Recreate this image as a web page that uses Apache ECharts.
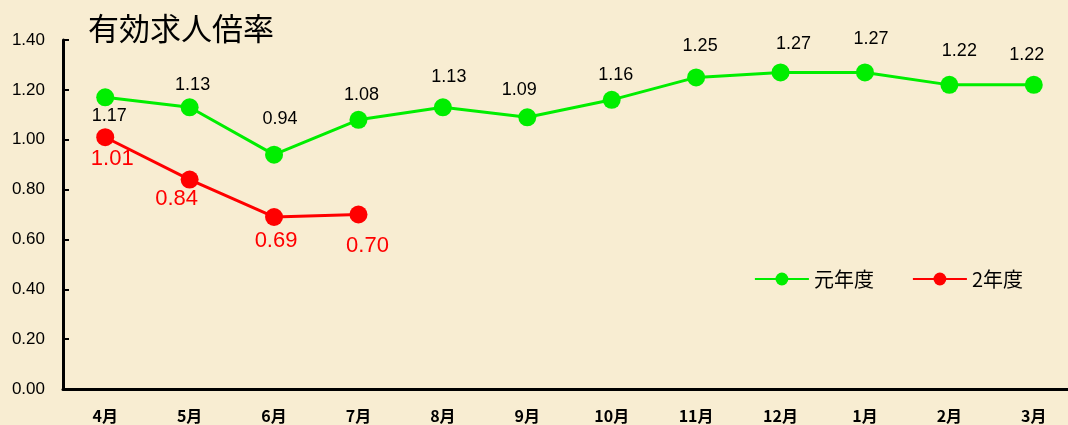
<!DOCTYPE html>
<html>
<head>
<meta charset="utf-8">
<script src="https://cdn.jsdelivr.net/npm/echarts@6/dist/echarts.min.js"></script>
<style>
  html, body { margin: 0; padding: 0; overflow: hidden; background: #f8edd2; }
  #chart { width: 1076px; height: 425px; }
</style>
</head>
<body>
<div id="chart"></div>
<script>
const months = ['4月', '5月', '6月', '7月', '8月', '9月', '10月', '11月', '12月', '1月', '2月', '3月']
const gannendo = [1.17, 1.13, 0.94, 1.08, 1.13, 1.09, 1.16, 1.25, 1.27, 1.27, 1.22, 1.22]
const ninendo = [1.01, 0.84, 0.69, 0.70]

// label offsets from the point centre (layout only)
const greenLabelOffsets = [[4, 19], [3, -22], [6, -36], [3, -25], [6, -30], [-8, -27],
  [4, -25], [4, -31], [13, -28], [6, -33], [10, -34], [-7, -30]]
const redLabelOffsets = [[7, 22], [-13, 19], [2, 24], [9, 31]]

const cjk = '"Noto Sans CJK JP", sans-serif'
const num = '"Liberation Sans", Arial, sans-serif'
const chart = echarts.init(document.getElementById('chart'))

const withOffsets = (values, offsets) => values.map((v, i) => ({
  value: v,
  label: { offset: offsets[i] }
}))

chart.setOption({
  backgroundColor: '#f8edd2',
  title: {
    text: '有効求人倍率',
    left: 83,
    top: 8,
    textStyle: { fontFamily: cjk, fontSize: 31, fontWeight: 'normal', color: '#000' }
  },
  legend: {
    right: 48,
    top: 264,
    itemWidth: 54,
    itemHeight: 16,
    itemGap: 38,
    textStyle: { fontFamily: cjk, fontSize: 20, color: '#000' },
    data: ['元年度', '2年度']
  },
  grid: { left: 63, right: 0, top: 40, bottom: 36 },
  xAxis: {
    type: 'category',
    data: months,
    axisLine: { lineStyle: { color: '#000', width: 3 } },
    axisTick: { inside: true, length: 6, lineStyle: { color: '#000', width: 2 } },
    axisLabel: { fontFamily: cjk, fontSize: 16, fontWeight: 'bold', color: '#000', margin: 19 }
  },
  yAxis: {
    type: 'value',
    min: 0,
    max: 1.4,
    interval: 0.2,
    splitLine: { show: false },
    axisLine: { show: true, lineStyle: { color: '#000', width: 3 } },
    axisTick: { show: true, inside: true, length: 6, lineStyle: { color: '#000', width: 2 } },
    axisLabel: {
      fontFamily: num, fontSize: 17, color: '#000', margin: 18,
      formatter: v => v.toFixed(2)
    }
  },
  series: [
    {
      name: '元年度',
      type: 'line',
      data: withOffsets(gannendo, greenLabelOffsets),
      symbol: 'circle',
      symbolSize: 18,
      color: '#00ee00',
      lineStyle: { width: 3, color: '#00ee00' },
      label: {
        show: true,
        position: 'inside',
        fontFamily: num,
        fontSize: 18,
        color: '#000',
        formatter: p => p.value.toFixed(2)
      }
    },
    {
      name: '2年度',
      type: 'line',
      data: withOffsets(ninendo, redLabelOffsets),
      symbol: 'circle',
      symbolSize: 18,
      color: '#ff0000',
      lineStyle: { width: 3, color: '#ff0000' },
      label: {
        show: true,
        position: 'inside',
        fontFamily: num,
        fontSize: 22,
        color: '#ff0000',
        formatter: p => p.value.toFixed(2)
      }
    }
  ]
})
</script>
</body>
</html>
